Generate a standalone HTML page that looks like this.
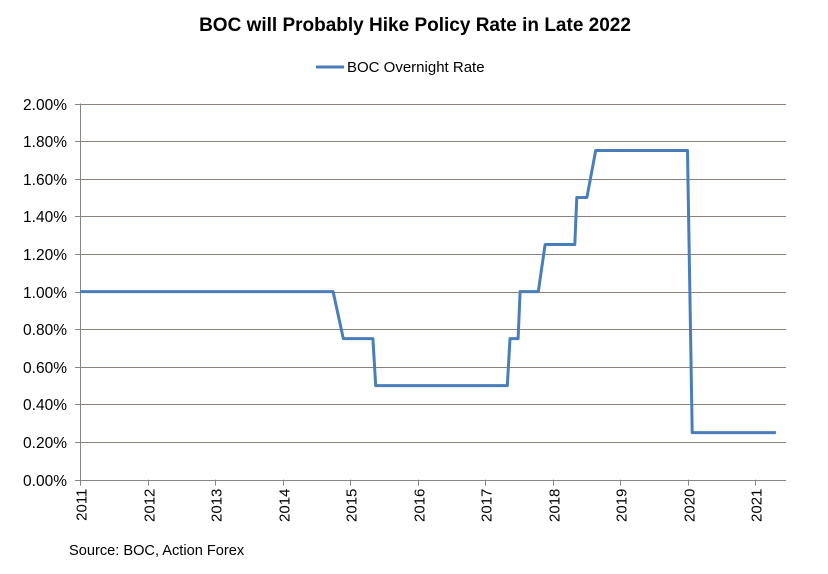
<!DOCTYPE html>
<html><head><meta charset="utf-8"><style>
body{margin:0;background:#fff;}
svg text{font-family:"Liberation Sans",Arial,sans-serif;fill:#000;}
</style></head><body>
<svg id="chart" width="828" height="569" viewBox="0 0 828 569" xmlns="http://www.w3.org/2000/svg">
<text x="415" y="31" text-anchor="middle" font-size="19" font-weight="bold">BOC will Probably Hike Policy Rate in Late 2022</text>
<g>
<line x1="316" y1="67" x2="344" y2="67" stroke="#4a7ebb" stroke-width="3"/>
<text x="347" y="72" font-size="15">BOC Overnight Rate</text>
</g>
<g id="grid"></g>
<g id="yaxis"></g>
<g id="xaxis"></g>
<g id="series"></g>
<text x="69" y="555" font-size="14.6">Source: BOC, Action Forex</text>
</svg>
<script>
const yTicks=[0,0.2,0.4,0.6,0.8,1.0,1.2,1.4,1.6,1.8,2.0];
const xTicks=[2011,2012,2013,2014,2015,2016,2017,2018,2019,2020,2021];
const dates=[2011.0,2014.75,2014.9,2015.34,2015.38,2017.33,2017.37,2017.49,2017.52,2017.79,2017.89,2018.33,2018.36,2018.51,2018.64,2020.0,2020.07,2021.31];
const rates=[1.0,1.0,0.75,0.75,0.5,0.5,0.75,0.75,1.0,1.0,1.25,1.25,1.5,1.5,1.75,1.75,0.25,0.25];
const L=80,R=786,T=103.5,B=479.6;
const xs=d=>L+(d-2011)*67.5;
const ys=v=>B-(v/2.0)*(B-T);
const NS="http://www.w3.org/2000/svg";
function mk(tag,attrs,parent){const e=document.createElementNS(NS,tag);for(const k in attrs)e.setAttribute(k,attrs[k]);parent.appendChild(e);return e;}
const grid=document.getElementById('grid'),ya=document.getElementById('yaxis'),xa=document.getElementById('xaxis'),ser=document.getElementById('series');
yTicks.forEach(v=>{
  const y=Math.round(ys(v))+0.5;
  if(v>0){const g=mk('line',{x1:L,x2:R,y1:y,y2:y,stroke:'#8c8279','stroke-width':1},grid);
  
  }
  mk('line',{x1:L-5,x2:L,y1:y,y2:y,stroke:'#868686'},ya);
  const t=mk('text',{x:L-13,y:y+5.5,'text-anchor':'end','font-size':15.5},ya);
  t.textContent=v.toFixed(2)+'%';
  
  
});
mk('line',{x1:L+0.5,x2:L+0.5,y1:T,y2:B+6,stroke:'#868686'},ya);
mk('line',{x1:L,x2:R,y1:Math.round(B)+0.5,y2:Math.round(B)+0.5,stroke:'#868686'},xa);
xTicks.forEach(d=>{
  const x=Math.round(xs(d))+0.5;
  mk('line',{x1:x,x2:x,y1:B,y2:B+6,stroke:'#868686'},xa);
  const t=mk('text',{transform:`translate(${x+6},${B+9}) rotate(-90)`,'text-anchor':'end','font-size':15},xa);
  t.textContent=d;
  
  
});
const pts=dates.map((d,i)=>xs(d).toFixed(1)+','+ys(rates[i]).toFixed(1)).join(' ');
const pl=mk('polyline',{points:pts,fill:'none',stroke:'#4a7ebb','stroke-width':3,'stroke-linejoin':'round'},ser);


</script>
</body></html>
